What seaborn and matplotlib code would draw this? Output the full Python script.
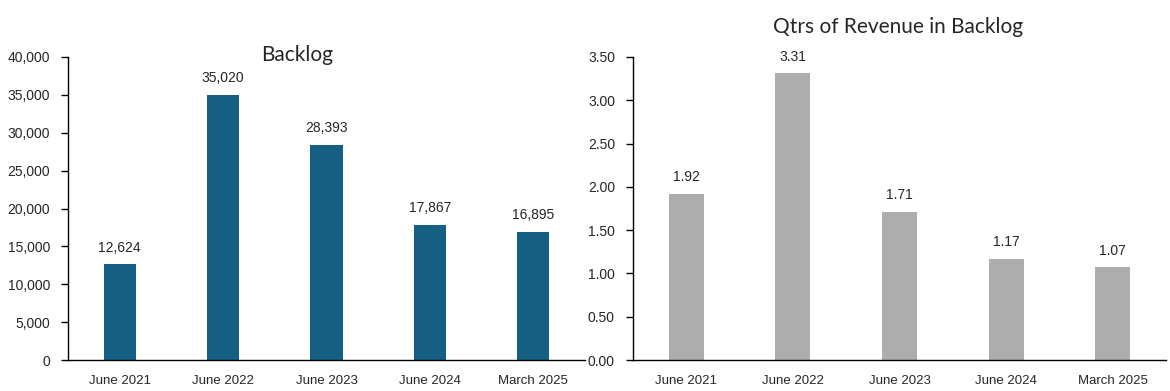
import matplotlib
matplotlib.use("Agg")
import matplotlib.pyplot as plt
import pandas as pd
import seaborn as sns
from matplotlib.ticker import FuncFormatter

periods = ["June 2021", "June 2022", "June 2023", "June 2024", "March 2025"]
backlog = [12624, 35020, 28393, 17867, 16895]
qtrs_revenue = [1.92, 3.31, 1.71, 1.17, 1.07]

TEAL = "#156082"
GRAY = "#ADADAD"

sns.set_theme(style="white")
plt.rcParams["font.family"] = ["Liberation Sans", "DejaVu Sans"]

df = pd.DataFrame({"period": periods, "backlog": backlog, "qtrs": qtrs_revenue})

fig = plt.figure(figsize=(11.7, 3.91), dpi=100)
ax1 = fig.add_axes([68 / 1170, 1 - 360 / 391, 517 / 1170, 303 / 391])
ax2 = fig.add_axes([633 / 1170, 1 - 360 / 391, 533 / 1170, 303 / 391])

sns.barplot(data=df, x="period", y="backlog", color=TEAL, width=0.31,
            saturation=1, linewidth=0, ax=ax1)
sns.barplot(data=df, x="period", y="qtrs", color=GRAY, width=0.33,
            saturation=1, linewidth=0, ax=ax2)

ax1.set_ylim(0, 40000)
ax1.set_yticks(range(0, 40001, 5000))
ax1.yaxis.set_major_formatter(FuncFormatter(lambda v, _: f"{v:,.0f}"))
ax2.set_ylim(0, 3.5)
ax2.set_yticks([i * 0.5 for i in range(8)])
ax2.yaxis.set_major_formatter(FuncFormatter(lambda v, _: f"{v:.2f}"))

for ax, fmt in [(ax1, "{:,.0f}"), (ax2, "{:.2f}")]:
    ax.set_xlabel("")
    ax.set_ylabel("")
    for s in ["top", "right"]:
        ax.spines[s].set_visible(False)
    for s in ["left", "bottom"]:
        ax.spines[s].set_color("black")
        ax.spines[s].set_linewidth(1.0)
    ax.tick_params(axis="y", left=True, length=5, width=1, direction="out",
                   labelsize=10, pad=8, color="black")
    ax.tick_params(axis="x", bottom=False, labelsize=9.5, pad=5)
    ax.bar_label(ax.containers[0], labels=[fmt.format(v) for v in ax.containers[0].datavalues],
                 padding=7, fontsize=10)

fig.text(297 / 1170, 1 - 55 / 391, "Backlog", ha="center", va="center",
         fontsize=15, family=["Lato", "DejaVu Sans"])
fig.text(898 / 1170, 1 - 27 / 391, "Qtrs of Revenue in Backlog", ha="center",
         va="center", fontsize=15, family=["Lato", "DejaVu Sans"])

fig.savefig("out.png", dpi=100)
